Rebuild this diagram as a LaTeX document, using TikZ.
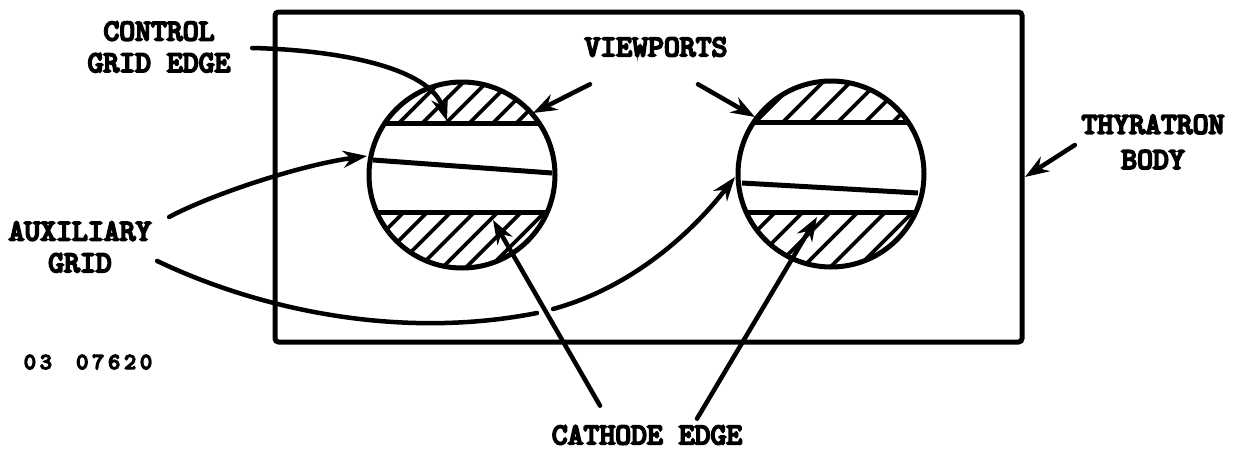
\documentclass[tikz,border=0pt]{standalone}
\usepackage{fontspec}
\usepackage{tikz}
\usetikzlibrary{arrows.meta}
\newfontfamily\tagfont[FakeBold=6]{Latin Modern Mono}
\tikzset{
  heavy/.style={line width=0.5mm},
  lead/.style={line width=0.45mm, line cap=round, -{Stealth[length=2.4mm, width=1.7mm]}},
  plainlead/.style={line width=0.45mm, line cap=round},
  hatch/.style={line width=0.38mm},
  tag/.style={font=\fontsize{8.6}{9}\selectfont\tagfont, inner sep=0pt, align=center}
}

\begin{document}
\begin{tikzpicture}[x=0.01cm, y=-0.01cm]
\useasboundingbox (0,0) rectangle (1236,448);

% Labels
\node[tag] (control) at (159,47) {CONTROL\\GRID EDGE};
\node[tag] (auxiliary) at (80,247) {AUXILIARY\\GRID};
\node[tag] (viewports) at (656,47) {VIEWPORTS};
\node[tag] (thyratron) at (1153,142) {THYRATRON\\[1pt]BODY};
\node[tag] (cathode) at (647,435) {CATHODE EDGE};
\node[tag, font=\fontsize{6.5}{7}\selectfont\tagfont] (serial) at (88,362) {0\,3\ \ 0\,7\,6\,2\,0};

% Body
\draw[heavy, rounded corners=1pt] (275,12) rectangle (1022,342);

% Left viewport
\begin{scope}
\clip (462,175) circle (93);
\clip (360,70) rectangle (570,123) (360,212) rectangle (570,280);
\foreach \i in {0,...,12}
  \draw[hatch] ({475+23.5*\i-300},300) -- ({475+23.5*\i-50},50);
\end{scope}
\draw[heavy] (462,175) circle (93);
\draw[heavy] (386,123) -- (538,123);
\draw[heavy] (378,212) -- (546,212);
\draw[heavy] (373,160) -- (552,173);

% Right viewport
\begin{scope}
\clip (831,174) circle (93);
\clip (730,70) rectangle (940,122) (730,212) rectangle (940,280);
\foreach \i in {0,...,11}
  \draw[hatch] ({850+27.5*\i-300},300) -- ({850+27.5*\i-50},50);
\end{scope}
\draw[heavy] (831,174) circle (93);
\draw[heavy] (755,122) -- (907,122);
\draw[heavy] (747,212) -- (915,212);
\draw[heavy] (742,183) -- (918,193);

% Free ends of the arrows
\coordinate (controltip) at (447,121);
\coordinate (viewleft) at (533,113);
\coordinate (viewright) at (755,117);
\coordinate (auxupper) at (367,156);
\coordinate (auxlower) at (735,177);
\coordinate (gapleft) at (537,313);
\coordinate (gapright) at (553,309);
\coordinate (cathleft) at (493,220);
\coordinate (cathright) at (817,217);
\coordinate (bodytip) at (1025,177);

% Arrows
\draw[lead] ([shift={(21,1)}]control.east) .. controls (340,50) and (430,68) .. (controltip);
\draw[lead] ([shift={(-66,27)}]viewports.south) -- (viewleft);
\draw[lead] ([shift={(42,27)}]viewports.south) -- (viewright);
\draw[lead] ([shift={(17,-30)}]auxiliary.east) .. controls (210,195) and (300,165) .. (auxupper);
\draw[plainlead] ([shift={(5,14)}]auxiliary.east) .. controls (260,310) and (400,340) .. (gapleft);
\draw[lead] (gapright) .. controls (630,288) and (690,235) .. (auxlower);
\draw[lead] ([shift={(-47,-19)}]cathode.north) -- (cathleft);
\draw[lead] ([shift={(50,-6)}]cathode.north) -- (cathright);
\draw[lead] ([shift={(-6,3)}]thyratron.west) -- (bodytip);

\end{tikzpicture}
\end{document}
